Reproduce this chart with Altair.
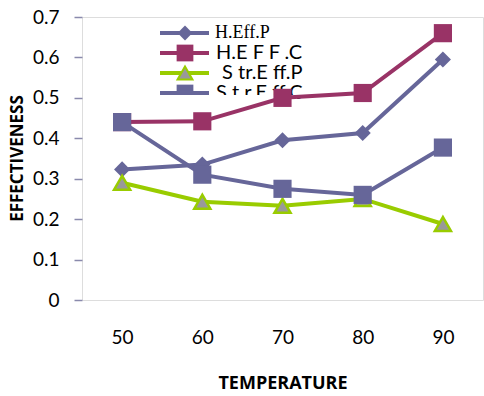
import altair as alt
import pandas as pd

temps = ["50", "60", "70", "80", "90"]
series = ["H.Eff.P", "H.EFF.C", "Str.Eff.P", "Str.Eff.C"]
h_eff_p = [0.323, 0.335, 0.395, 0.413, 0.595]
h_eff_c = [0.440, 0.442, 0.500, 0.512, 0.660]
str_eff_p = [0.290, 0.243, 0.233, 0.250, 0.188]
str_eff_c = [0.440, 0.310, 0.275, 0.260, 0.377]
legend_labels = ["H.Eff.P", "H.E F F .C", "S tr.E ff.P", "S t r.E ff.C"]

line_colors = ["#666699", "#993366", "#99CC00", "#666699"]
fill_colors = ["#666699", "#993366", "#999999", "#666699"]
shapes = ["diamond", "square", "triangle-up", "square"]
sizes = [260, 330, 260, 330]
legend_rows_y = [16, 36, 56, 76]
legend_text_x = [133, 134, 140, 134]

values = [h_eff_p, h_eff_c, str_eff_p, str_eff_c]
rows = []
for s, vals in zip(series, values):
    for t, v in zip(temps, vals):
        rows.append({"series": s, "temp": t, "value": v})
df = pd.DataFrame(rows)
leg = pd.DataFrame({"series": series, "label": legend_labels})

x_enc = alt.X("temp:N", sort=temps, scale=alt.Scale(domain=temps, paddingInner=0, paddingOuter=0.5, align=0.5),
              axis=alt.Axis(title="TEMPERATURE", labelAngle=0, ticks=False, domain=False,
                            labelPadding=28, labelFontSize=19, labelFont="Lato", labelColor="#000000",
                            titleFont="Open Sans", titleFontSize=18, titleFontWeight="bold",
                            titleY=74, titleColor="#000000"))
y_enc = alt.Y("value:Q", scale=alt.Scale(domain=[0, 0.7], nice=False),
              axis=alt.Axis(title="EFFECTIVENESS", values=[0, 0.1, 0.2, 0.3, 0.4, 0.5, 0.6, 0.7],
                            format=".1~f", domain=False, grid=False, tickSize=8, tickColor="#8a8aac",
                            tickWidth=1.5, labelPadding=15, labelFontSize=19, labelFont="Lato",
                            labelColor="#000000", titleFont="Open Sans", titleFontSize=17,
                            titleFontWeight="bold", titleX=-65, titleY=141, titleAngle=270,
                            titleBaseline="middle", titleAlign="center", titleColor="#000000"))

layers = []
# legend (drawn behind data)
for i, s in enumerate(series):
    d = leg[leg.series == s]
    yv = alt.value(legend_rows_y[i])
    layers.append(alt.Chart(d).mark_rule(color=line_colors[i], strokeWidth=4).encode(
        x=alt.value(78), x2=alt.value(127), y=yv))
    layers.append(alt.Chart(d).mark_point(shape=shapes[i], filled=True, fill=fill_colors[i],
                                          stroke=line_colors[i], strokeWidth=2 if i == 2 else 0,
                                          opacity=1, size=sizes[i] * 0.85).encode(x=alt.value(103), y=yv))
    layers.append(alt.Chart(d).mark_text(align="left", baseline="middle",
                                         font="Liberation Serif" if i == 0 else "Lato",
                                         fontSize=18 if i == 0 else 20, color="#000000").encode(
        x=alt.value(legend_text_x[i]), y=yv, text="label:N"))
# clip the lower part of the legend
layers.append(alt.Chart(leg.head(1)).mark_rect(color="white").encode(
    x=alt.value(70), x2=alt.value(215), y=alt.value(78), y2=alt.value(92)))

for i, s in enumerate(series):
    d = df[df.series == s]
    layers.append(alt.Chart(d).mark_line(color=line_colors[i], strokeWidth=4).encode(x=x_enc, y=y_enc))
    layers.append(alt.Chart(d).mark_point(shape=shapes[i], filled=True, fill=fill_colors[i],
                                          stroke=line_colors[i], strokeWidth=2.5 if i == 2 else 0,
                                          opacity=1, size=sizes[i]).encode(x=x_enc, y=y_enc))

chart = alt.layer(*layers).properties(
    width=401, height=283,
    padding={"left": 82, "top": 17, "right": 1, "bottom": 96},
    autosize=alt.AutoSizeParams(type="none"),
).configure_view(stroke="#8a8aac", strokeWidth=2).configure(background="white")

chart.save("out.html", embed_options={"renderer": "svg", "actions": False})
